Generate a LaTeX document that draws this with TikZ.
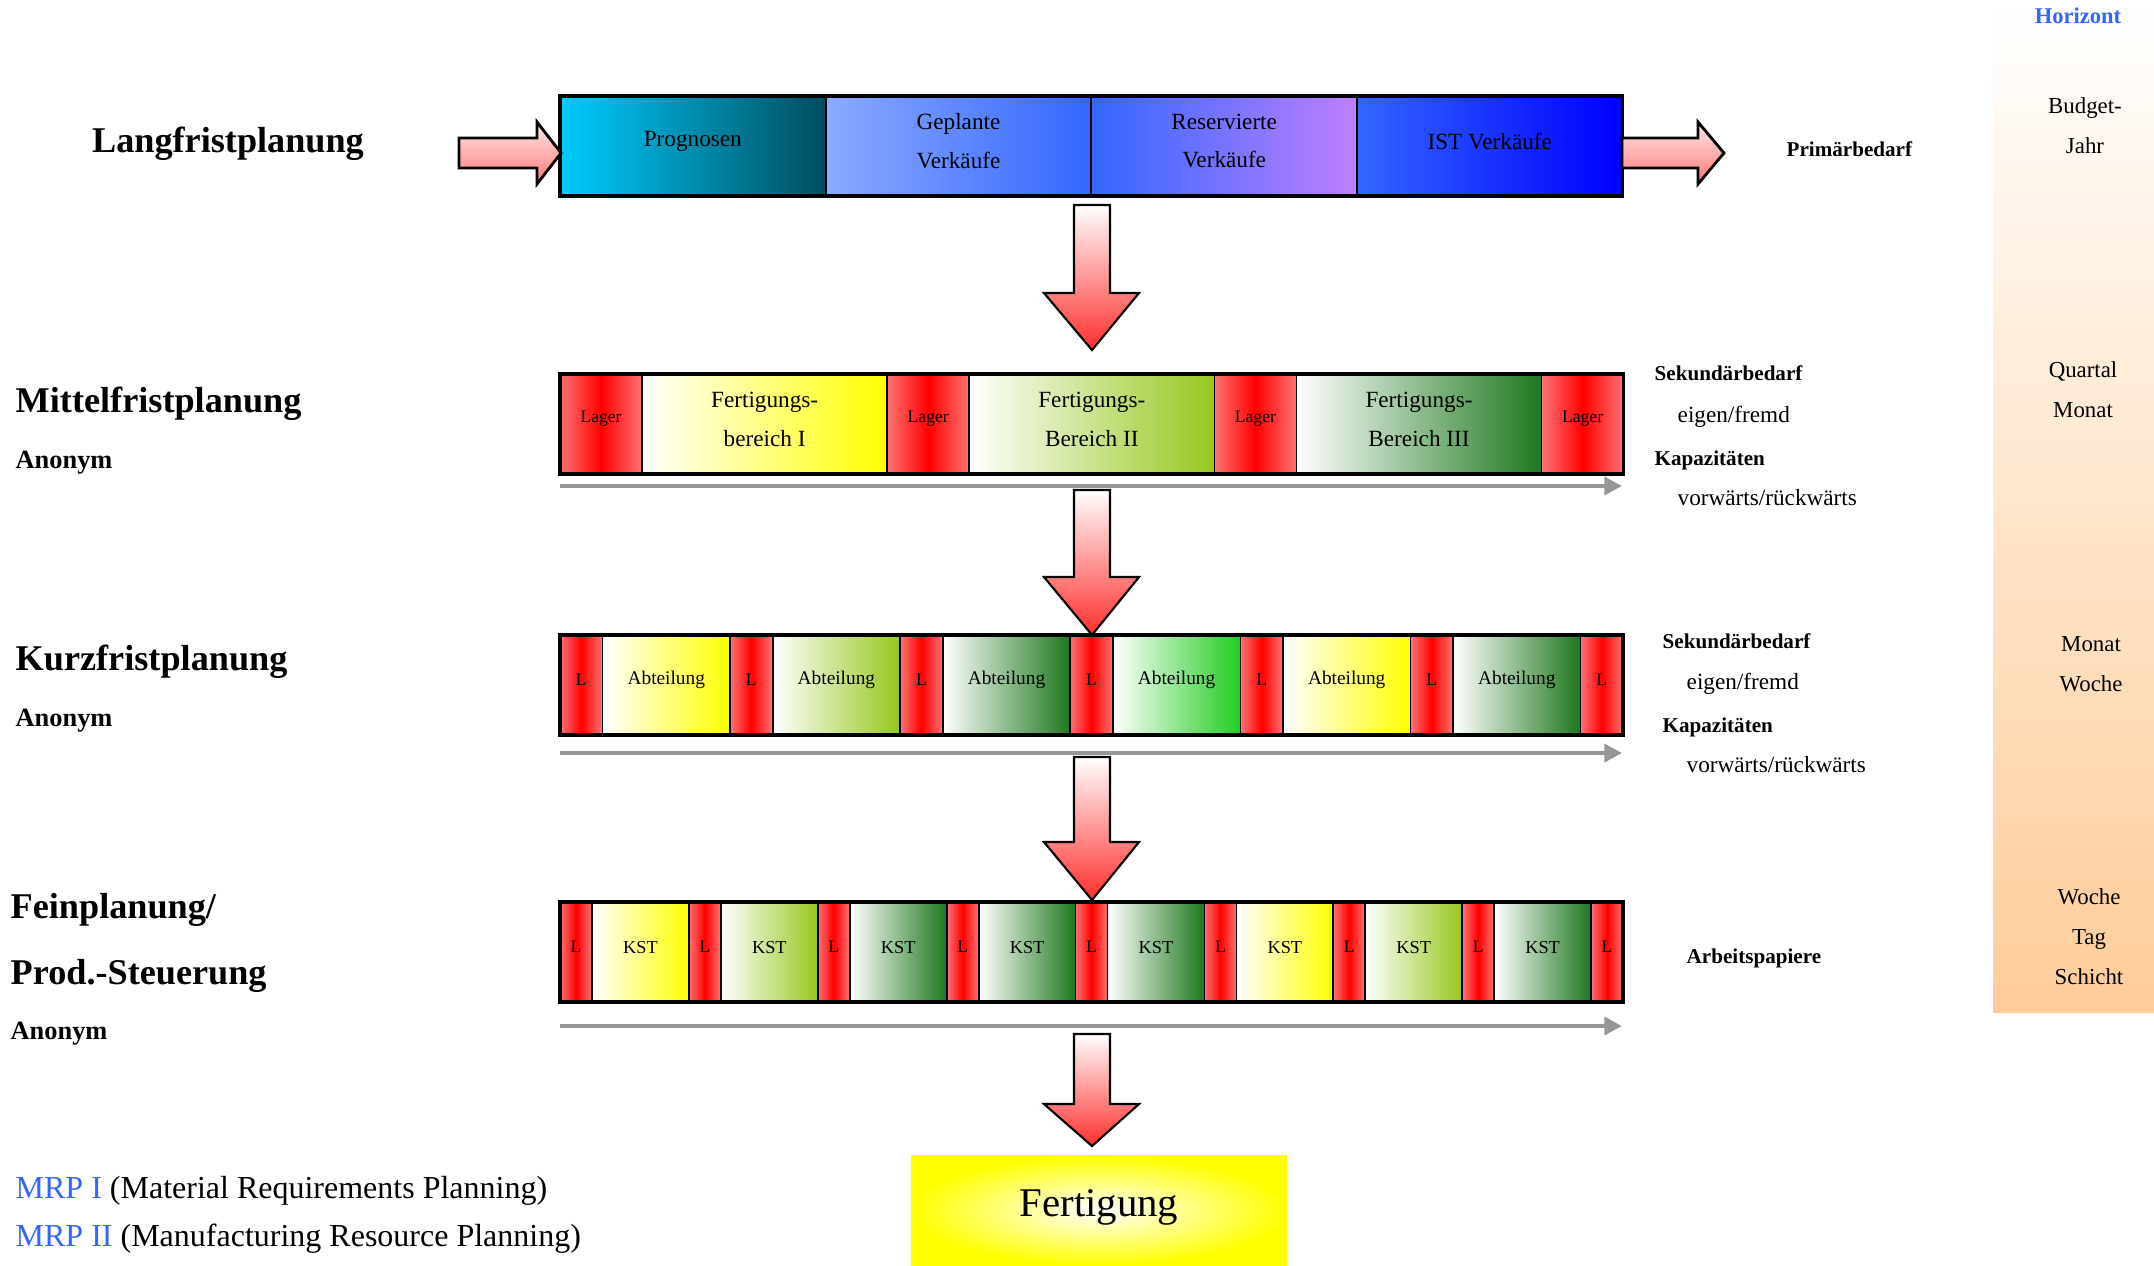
\documentclass[tikz,border=0pt]{standalone}
\usepackage{fontspec}
\setmainfont{Liberation Serif}
\usetikzlibrary{positioning,arrows.meta}

\definecolor{hblue}{RGB}{51,102,255}
\definecolor{peach}{RGB}{255,204,153}
\definecolor{lred}{RGB}{255,115,115}
\definecolor{ygreen}{RGB}{150,200,30}
\definecolor{dgreen}{RGB}{30,120,30}
\definecolor{bgreen}{RGB}{34,204,34}
\definecolor{prgcyan}{RGB}{0,204,255}
\definecolor{prgteal}{RGB}{0,77,94}
\definecolor{peri}{RGB}{140,170,255}
\definecolor{lilac}{RGB}{190,128,255}
\definecolor{arred}{RGB}{255,45,45}
\definecolor{harpink}{RGB}{255,232,232}
\definecolor{harred}{RGB}{255,120,120}
\definecolor{tlgray}{RGB}{150,150,150}

\tikzset{
  seg/.style={draw, line width=0.5pt, inner sep=0pt, outer sep=0pt,
    minimum height=1cm},
  lager/.style={seg, left color=lred, right color=lred, middle color=red},
  segtxt/.style={inner sep=0pt, yshift=1.4pt, align=center},
  bartext/.style={font=\fontsize{6.6}{11}\selectfont},
  title/.style={anchor=west, inner sep=0pt, font=\fontsize{10.3}{12}\selectfont\bfseries},
  anon/.style={anchor=west, inner sep=0pt, font=\fontsize{7.5}{9}\selectfont\bfseries},
  sidehead/.style={anchor=west, inner sep=0pt, font=\fontsize{6}{7}\selectfont\bfseries},
  sidetext/.style={anchor=west, inner sep=0pt, font=\fontsize{6.6}{8}\selectfont},
  horiz/.style={inner sep=0pt, align=center, font=\fontsize{6.5}{11.4}\selectfont},
  timeline/.style={tlgray, line width=1.4pt, -{Triangle[length=5pt,width=5pt]}},
  blockdown/.style={draw=black, line width=0.6pt, top color=white, bottom color=arred},
  blockright/.style={draw=black, line width=0.8pt, top color=harpink, bottom color=harred}
}

\begin{document}
\begin{tikzpicture}[x=0.01cm, y=-0.01cm]
  \useasboundingbox (0,0) rectangle (2154,1265);

  % Horizont
  \shade[top color=white, bottom color=peach] (1993,0) rectangle (2154,1012);
  \node[inner sep=0pt, text=hblue, font=\fontsize{6.4}{8}\selectfont\bfseries] (hz) at (2078,16) {Horizont};
  \node[horiz] (hz1) at (2085,126) {Budget-\\Jahr};
  \node[horiz] (hz2) at (2083,390) {Quartal\\Monat};
  \node[horiz] (hz3) at (2091,664) {Monat\\Woche};
  \node[horiz] (hz4) at (2089,937) {Woche\\Tag\\Schicht};

  % Ebenen links
  \node[inner sep=0pt, font=\fontsize{10.3}{12}\selectfont\bfseries] (lang) at (228,144) {Langfristplanung};
  \node[title] (mittel) at (15,404) {Mittelfristplanung};
  \node[anon] (anon1) at (15,463) {Anonym};
  \node[title] (kurz) at (15,662) {Kurzfristplanung};
  \node[anon] (anon2) at (15,721) {Anonym};
  \node[title] (fein) at (10,910) {Feinplanung/};
  \node[title] (steuer) at (10,976) {Prod.-Steuerung};
  \node[anon] (anon3) at (10,1034) {Anonym};

  % Langfrist
  \node[seg, left color=prgcyan, right color=prgteal, minimum width=2.655cm, anchor=west,
    label={[segtxt, bartext]center:Prognosen}] (prog) at (560,146) {};
  \node[seg, left color=peri, right color=hblue, minimum width=2.655cm, right=0pt of prog,
    label={[segtxt, bartext]center:{Geplante\\Verkäufe}}] (geplant) {};
  \node[seg, left color=hblue, right color=lilac, minimum width=2.655cm, right=0pt of geplant,
    label={[segtxt, bartext]center:{Reservierte\\Verkäufe}}] (reserv) {};
  \node[seg, left color=hblue, right color=blue, minimum width=2.655cm, right=0pt of reserv,
    label={[segtxt, bartext]center:IST Verkäufe}] (ist) {};
  \draw[line width=1pt] (prog.north west) rectangle (ist.south east);

  \foreach \xa/\xh/\xt in {459/537/561, 1622/1698/1724}
    \shade[blockright] (\xa,138) -- (\xh,138) -- (\xh,122) -- (\xt,153)
      -- (\xh,184) -- (\xh,168) -- (\xa,168) -- cycle;
  \node[sidehead] (prim) at (1786,149) {Primärbedarf};

  % Mittelfrist
  \node[lager, minimum width=0.82cm, anchor=west,
    label={[segtxt, font=\fontsize{5}{6}\selectfont]center:Lager}] (m0) at (560,424) {};
  \foreach \c/\t [count=\i] in {yellow/{Fertigungs-\\bereich I}, ygreen/{Fertigungs-\\Bereich II}, dgreen/{Fertigungs-\\Bereich III}} {
    \pgfmathtruncatemacro\prev{\i-1}
    \node[seg, left color=white, right color=\c, minimum width=2.45cm, right=0pt of m\prev,
      label={[segtxt, bartext]center:\t}] (mf\i) {};
    \node[lager, minimum width=0.82cm, right=0pt of mf\i,
      label={[segtxt, font=\fontsize{5}{6}\selectfont]center:Lager}] (m\i) {};
  }
  \draw[line width=1pt] (m0.north west) rectangle (m3.south east);
  \draw[timeline] (560,486) -- (1622,486);

  \node[sidehead] (sek1) at (1654,373) {Sekundärbedarf};
  \node[sidetext] (eig1) at (1677,417) {eigen/fremd};
  \node[sidehead] (kap1) at (1654,460) {Kapazitäten};
  \node[sidetext] (vr1) at (1677,498) {vorwärts/rückwärts};

  % Kurzfrist
  \node[lager, minimum width=0.425cm, anchor=west,
    label={[segtxt, font=\fontsize{5}{6}\selectfont]center:L}] (k0) at (560,685) {};
  \foreach \c [count=\i] in {yellow, ygreen, dgreen, bgreen, yellow, dgreen} {
    \pgfmathtruncatemacro\prev{\i-1}
    \node[seg, left color=white, right color=\c, minimum width=1.275cm, right=0pt of k\prev,
      label={[segtxt, font=\fontsize{5.5}{6}\selectfont]center:Abteilung}] (ka\i) {};
    \node[lager, minimum width=0.425cm, right=0pt of ka\i,
      label={[segtxt, font=\fontsize{5}{6}\selectfont]center:L}] (k\i) {};
  }
  \draw[line width=1pt] (k0.north west) rectangle (k6.south east);
  \draw[timeline] (560,753) -- (1622,753);

  \node[sidehead] (sek2) at (1662,641) {Sekundärbedarf};
  \node[sidetext] (eig2) at (1686,684) {eigen/fremd};
  \node[sidehead] (kap2) at (1662,727) {Kapazitäten};
  \node[sidetext] (vr2) at (1686,765) {vorwärts/rückwärts};

  % Feinplanung
  \node[lager, minimum width=0.32cm, anchor=west,
    label={[segtxt, font=\fontsize{5}{6}\selectfont]center:L}] (f0) at (560,952) {};
  \foreach \c [count=\i] in {yellow, ygreen, dgreen, dgreen, dgreen, yellow, ygreen, dgreen} {
    \pgfmathtruncatemacro\prev{\i-1}
    \node[seg, left color=white, right color=\c, minimum width=0.968cm, right=0pt of f\prev,
      label={[segtxt, font=\fontsize{5.2}{6}\selectfont]center:KST}] (kst\i) {};
    \node[lager, minimum width=0.32cm, right=0pt of kst\i,
      label={[segtxt, font=\fontsize{5}{6}\selectfont]center:L}] (f\i) {};
  }
  \draw[line width=1pt] (f0.north west) rectangle (f8.south east);
  \draw[timeline] (560,1026) -- (1622,1026);
  \node[sidehead] (arb) at (1686,958) {Arbeitspapiere};

  % Pfeile nach unten
  \foreach \yt/\yh/\yb in {205/293/350, 490/577/635, 757/842/900, 1034/1104/1146}
    \shade[blockdown] (1074,\yt) -- (1110,\yt) -- (1110,\yh) -- (1139,\yh)
      -- (1092,\yb) -- (1044,\yh) -- (1074,\yh) -- cycle;

  % Fertigung
  \node[inner sep=0pt, minimum width=3.76cm, minimum height=1.09cm, inner color=white, outer color=yellow,
    label={[inner sep=0pt, yshift=1pt, font=\fontsize{11.6}{14}\selectfont]center:Fertigung}] (fert) at (1099,1210.5) {};

  \node[anchor=west, inner sep=0pt, font=\fontsize{9.1}{11}\selectfont] (mrp1) at (15,1191)
    {\textcolor{hblue}{MRP I} (Material Requirements Planning)};
  \node[anchor=west, inner sep=0pt, font=\fontsize{9.1}{11}\selectfont] (mrp2) at (15,1239)
    {\textcolor{hblue}{MRP II} (Manufacturing Resource Planning)};
\end{tikzpicture}
\end{document}
